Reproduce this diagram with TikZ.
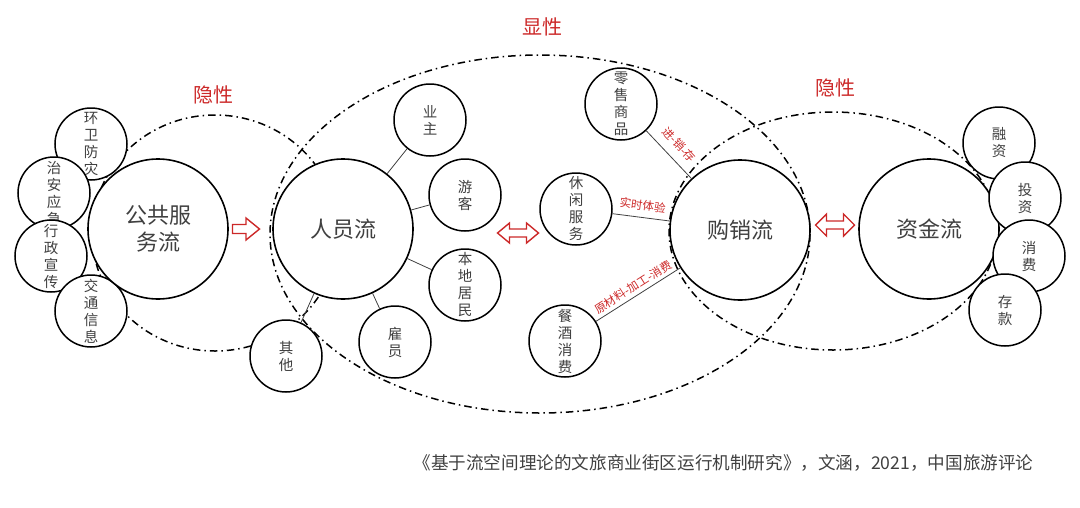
\documentclass[tikz,border=0pt]{standalone}
\usepackage{fontspec}
\setmainfont{Noto Sans CJK SC}
\usetikzlibrary{calc}
\definecolor{myred}{RGB}{204,40,40}
\definecolor{mygray}{RGB}{64,64,64}

\begin{document}
\begin{tikzpicture}[x=1pt, y=-1pt,
  bigflow/.style={circle, draw, fill=white, line width=1.6pt, minimum size=140pt, inner sep=0pt,
    align=center, font=\fontsize{22}{27}\selectfont, text=mygray},
  subflow/.style={circle, draw, fill=white, line width=1.5pt, minimum size=72pt, inner sep=0pt},
  vtext/.style={align=center, inner sep=0pt, font=\fontsize{14.5}{17}\selectfont, text=mygray},
  zone/.style={line width=1.5pt, dash pattern=on 7.5pt off 4pt on 1.5pt off 4pt},
  link/.style={draw=mygray, line width=0.8pt},
  linklabel/.style={sloped, inner sep=1.5pt, font=\fontsize{11.5}{12}\selectfont, text=myred},
  zonelabel/.style={font=\fontsize{20}{22}\selectfont, text=myred},
  flowarrow/.style={draw=myred, fill=white, line width=1.4pt, line join=miter}]
  \useasboundingbox (0,0) rectangle (1080,507);

  % Zones
  \draw[zone] (540,234) ellipse [x radius=270, y radius=179];
  \draw[zone] (215,233) ellipse [x radius=123, y radius=118];
  \draw[zone] (833,231) ellipse [x radius=164, y radius=119];
  \node[zonelabel] (xianxing) at (542,27) {显性};
  \node[zonelabel] (yinxingl) at (213,95) {隐性};
  \node[zonelabel] (yinxingr) at (835,88) {隐性};

  % Public service flow
  \node[subflow, label={[vtext]center:环\\卫\\防\\灾}] (huanwei) at (91,144) {};
  \node[subflow, label={[vtext]center:治\\安\\应\\急}] (zhian) at (54,193) {};
  \node[subflow, label={[vtext]center:行\\政\\宣\\传}] (xingzheng) at (51,256) {};
  \node[subflow, label={[vtext]center:交\\通\\信\\息}] (jiaotong) at (91,311) {};
  \node[bigflow] (gonggong) at (158,229) {公共服\\务流};

  % People flow
  \node[bigflow] (renyuan) at (343,229) {人员流};
  \node[subflow, label={[vtext]center:业\\主}] (yezhu) at (430,120) {};
  \node[subflow, label={[vtext]center:游\\客}] (youke) at (465,195) {};
  \node[subflow, label={[vtext]center:本\\地\\居\\民}] (jumin) at (465,285) {};
  \node[subflow, label={[vtext]center:雇\\员}] (guyuan) at (395,342) {};
  \node[subflow, label={[vtext]center:其\\他}] (qita) at (286,356) {};
  \foreach \s in {yezhu,youke,jumin,guyuan,qita}
    \draw[link] (renyuan) -- (\s);

  % Purchase and sales flow
  \node[bigflow] (gouxiao) at (740,230) {购销流};
  \node[subflow, label={[vtext]center:零\\售\\商\\品}] (lingshou) at (621,104) {};
  \node[subflow, label={[vtext]center:休\\闲\\服\\务}] (xiuxian) at (576,209) {};
  \node[subflow, label={[vtext]center:餐\\酒\\消\\费}] (canjiu) at (565,341) {};
  \draw[link] (lingshou) -- node[linklabel, above=7pt] {进-销-存} (gouxiao);
  \draw[link] (xiuxian) -- node[linklabel, above=5pt] {实时体验} (gouxiao);
  \draw[link] (canjiu) -- node[linklabel, above=2pt] {原材料-加工-消费} (gouxiao);

  % Capital flow
  \node[bigflow] (zijin) at (929,229) {资金流};
  \node[subflow, label={[vtext]center:融\\资}] (rongzi) at (999,143) {};
  \node[subflow, label={[vtext]center:投\\资}] (touzi) at (1025,198) {};
  \node[subflow, label={[vtext]center:消\\费}] (xiaofei) at (1029,256) {};
  \node[subflow, label={[vtext]center:存\\款}] (cunkuan) at (1005,310) {};

  % Arrows
  \draw[flowarrow, shift={(246,229)}] (-13.5,-4.5) -- (0,-4.5) -- (0,-11) -- (13.5,0)
    -- (0,11) -- (0,4.5) -- (-13.5,4.5) -- cycle;
  \draw[flowarrow, shift={(518,233)}] (-20.5,0) -- (-8.5,-10) -- (-8.5,-4) -- (8.5,-4)
    -- (8.5,-10) -- (20.5,0) -- (8.5,10) -- (8.5,4) -- (-8.5,4) -- (-8.5,10) -- cycle;
  \draw[flowarrow, shift={(835,225)}] (-19.5,0) -- (-8.5,-11) -- (-8.5,-4) -- (8.5,-4)
    -- (8.5,-11) -- (19.5,0) -- (8.5,11) -- (8.5,4) -- (-8.5,4) -- (-8.5,11) -- cycle;

  % Source
  \node[anchor=west, font=\fontsize{17.6}{20}\selectfont, text=mygray] (source) at (410,463)
    {《基于流空间理论的文旅商业街区运行机制研究》，文涵，2021，中国旅游评论};
\end{tikzpicture}
\end{document}
